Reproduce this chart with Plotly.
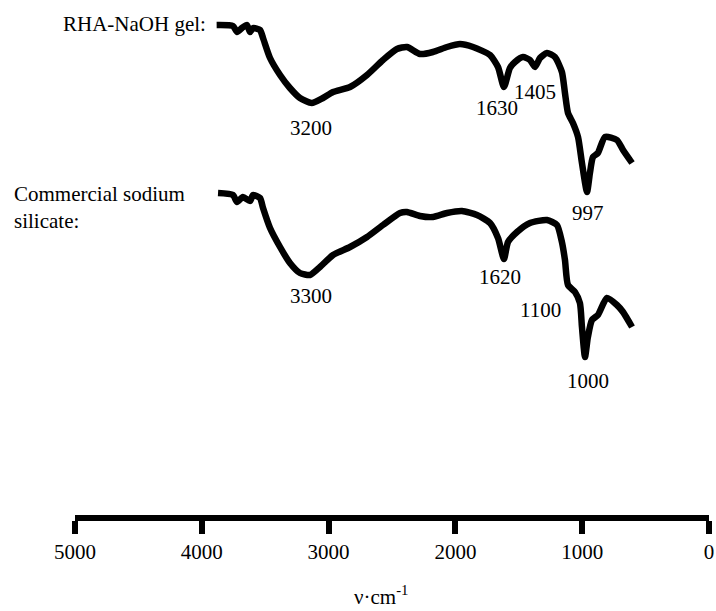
import plotly.graph_objects as go

# RHA-NaOH gel spectrum (wavenumber cm^-1, transmittance a.u.)
gel_wn = [3883, 3754, 3722, 3683, 3644, 3620, 3596, 3541, 3517, 3462, 3383, 3305, 3226, 3133,
          3044, 2965, 2831, 2697, 2571, 2461, 2382, 2279, 2177, 2066, 1964, 1861, 1727, 1664,
          1617, 1570, 1530, 1467, 1412, 1372, 1333, 1278, 1215, 1160, 1136, 1112, 1073, 1033,
          1002, 962, 939, 915, 876, 820, 726, 678, 607]
gel_t = [493, 492, 486, 490, 493, 486, 490, 488, 480, 460, 443, 430, 420, 415,
         420, 426, 431, 443, 458, 469, 471, 464, 466, 471, 474, 471, 463, 451,
         431, 450, 456, 461, 458, 451, 460, 465, 461, 446, 425, 405, 395, 381,
         355, 326, 345, 361, 365, 381, 378, 368, 355]

# Commercial sodium silicate spectrum
com_wn = [3872, 3754, 3722, 3675, 3620, 3596, 3541, 3517, 3462, 3383, 3305, 3226, 3147, 3068,
          2965, 2831, 2697, 2571, 2437, 2382, 2279, 2177, 2066, 1948, 1830, 1727, 1664, 1617,
          1585, 1514, 1412, 1278, 1199, 1160, 1136, 1112, 1057, 1018, 1002, 978, 955, 923,
          876, 805, 726, 678, 607]
com_t = [325, 323, 316, 321, 317, 323, 320, 310, 290, 271, 255, 245, 243, 251,
         263, 271, 281, 293, 305, 306, 302, 301, 305, 307, 303, 295, 280, 259,
         276, 286, 295, 298, 293, 276, 258, 233, 226, 215, 191, 161, 181, 198,
         203, 220, 213, 206, 191]

# Peak labels
peak_text = ["3200", "1630", "1405", "997", "3300", "1620", "1100", "1000"]
peak_wn = [3139, 1672, 1372, 955, 3139, 1648, 1325, 955]
peak_t = [390, 410, 426, 305, 222, 241, 208, 137]

tick_vals = [5000, 4000, 3000, 2000, 1000, 0]
tick_text = ["5000", "4000", "3000", "2000", "1000", "0"]

FONT = "Liberation Serif, Times New Roman, serif"

fig = go.Figure()
for wn, t in [(gel_wn, gel_t), (com_wn, com_t)]:
    fig.add_trace(go.Scatter(x=wn, y=t, mode="lines",
                             line=dict(color="black", width=6.5, shape="spline", smoothing=0.6),
                             showlegend=False, hoverinfo="skip"))

for txt, x, y in zip(peak_text, peak_wn, peak_t):
    fig.add_annotation(x=x, y=y, xref="x", yref="y", text=txt, showarrow=False,
                       font=dict(family=FONT, size=21, color="black"),
                       xanchor="center", yanchor="middle")

fig.add_annotation(x=0.2098, y=494, xref="paper", yref="y", text="RHA-NaOH gel:",
                   showarrow=False, xanchor="right", yanchor="middle",
                   font=dict(family=FONT, size=21, color="black"))
fig.add_annotation(x=-0.0994, y=311, xref="paper", yref="y",
                   text="Commercial sodium<br>silicate:", align="left",
                   showarrow=False, xanchor="left", yanchor="middle",
                   font=dict(family=FONT, size=21, color="black"))
fig.add_annotation(x=0.4826, y=-0.156, xref="paper", yref="paper",
                   text="ν·cm<sup>-1</sup>", showarrow=False,
                   xanchor="center", yanchor="middle",
                   font=dict(family=FONT, size=21, color="black"))

fig.update_layout(
    width=716, height=611,
    margin=dict(l=75, r=7, t=0, b=96),
    paper_bgcolor="white", plot_bgcolor="white",
    xaxis=dict(range=[5000, 0], tickvals=tick_vals, ticktext=tick_text,
               showline=True, linewidth=6, linecolor="black",
               ticks="outside", ticklen=13, tickwidth=6, tickcolor="black",
               showgrid=False, zeroline=False,
               tickfont=dict(family=FONT, size=21, color="black")),
    yaxis=dict(range=[3, 518], visible=False, showgrid=False, zeroline=False),
)

fig.write_html("out.html")
